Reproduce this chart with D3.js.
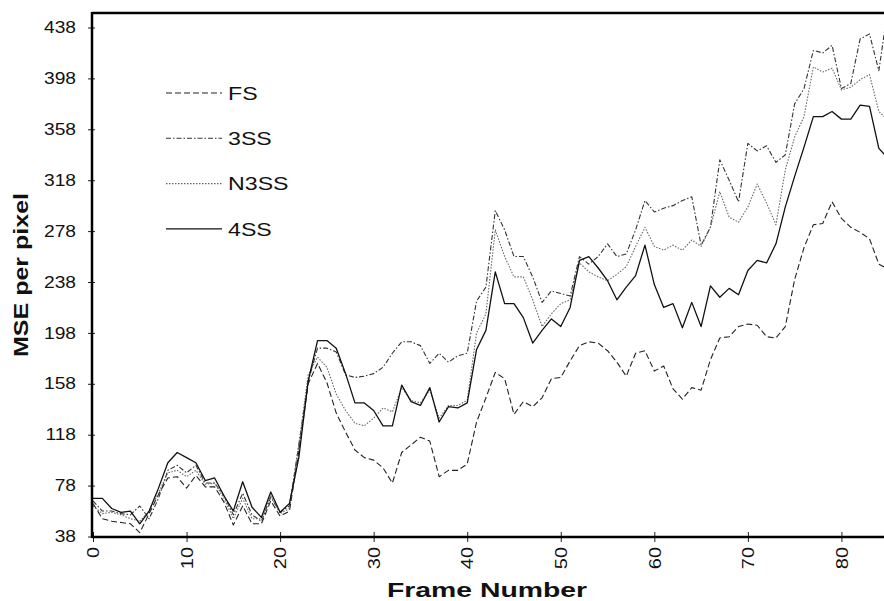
<!DOCTYPE html>
<html>
<head>
<meta charset="utf-8">
<script src="https://cdn.jsdelivr.net/npm/d3@7"></script>
<style>
    body { margin: 0; background: #fff; }
    svg { font-family: "Liberation Sans", Arial, sans-serif; }
    .tickTxt { font-size: 16px; fill: #111; }
    .axTitle { font-size: 20px; font-weight: bold; fill: #111; }
    .legTxt { font-size: 19px; fill: #111; }
</style>
</head>
<body>
<div id="mseGrf"></div>
<script>
// frame numbers
var frames = d3.range(0, 86);

// MSE per pixel
var fsVals = [64, 52, 50, 49, 48, 41, 56, 71, 84, 85, 76, 86, 77, 77, 65, 47, 62, 48, 48, 66, 54, 58,
    105, 158, 174, 159, 135, 120, 106, 100, 98, 92, 80, 104, 110, 116, 113, 85, 90, 90, 95,
    128, 147, 167, 162, 134, 144, 140, 147, 162, 163, 176, 188, 191, 190, 184, 175, 164, 182, 184, 168,
    172, 154, 146, 155, 153, 177, 194, 195, 203, 205, 204, 195, 194, 203, 240, 265, 283, 284, 301, 288,
    281, 277, 272, 252, 248];
var ss3Vals = [66, 58, 58, 56, 55, 62, 52, 68, 90, 94, 88, 94, 80, 80, 70, 55, 72, 55, 50, 69, 57, 62,
    110, 160, 186, 186, 183, 165, 163, 164, 166, 171, 182, 191, 191, 188, 174, 182, 175, 180, 182,
    223, 234, 294, 279, 258, 258, 242, 222, 231, 229, 227, 258, 252, 258, 268, 258, 260, 279, 302, 293,
    296, 298, 302, 305, 267, 281, 334, 318, 301, 347, 341, 345, 332, 338, 378, 390, 420, 418, 424, 390,
    394, 429, 433, 404, 455];
var n3ssVals = [62, 56, 57, 55, 52, 50, 58, 72, 88, 90, 85, 90, 79, 80, 68, 52, 68, 52, 52, 70, 56, 60,
    110, 165, 179, 171, 150, 137, 127, 125, 131, 139, 136, 155, 145, 143, 153, 131, 141, 141, 145,
    198, 213, 279, 258, 242, 242, 224, 203, 213, 221, 224, 253, 246, 242, 239, 244, 250, 266, 281, 266,
    263, 267, 263, 271, 266, 281, 309, 289, 285, 297, 315, 300, 283, 326, 352, 368, 407, 403, 406, 389,
    391, 397, 401, 372, 365];
var ss4Vals = [68, 68, 60, 57, 58, 48, 58, 76, 96, 104, 100, 96, 82, 84, 70, 58, 81, 61, 53, 73, 57, 64,
    100, 160, 192, 192, 186, 166, 143, 143, 137, 125, 125, 157, 144, 141, 155, 128, 140, 139, 143,
    185, 200, 246, 221, 221, 210, 190, 200, 209, 203, 218, 255, 258, 249, 239, 224, 234, 243, 267, 236,
    218, 221, 202, 222, 203, 235, 226, 233, 228, 247, 255, 253, 268, 297, 321, 344, 368, 368, 372, 366,
    366, 377, 376, 343, 335];

var seriesNames = ["FS", "3SS", "N3SS", "4SS"];
var yTicks = [38, 78, 118, 158, 198, 238, 278, 318, 358, 398, 438];
var xTicks = [0, 10, 20, 30, 40, 50, 60, 70, 80];

// the scanned figure uses a wide face, so stretch text along its run
function widen(sel, k) {
    sel.each(function () {
        var len = this.getComputedTextLength();
        this.setAttribute("textLength", len * k);
        this.setAttribute("lengthAdjust", "spacingAndGlyphs");
    });
}

function drawLineChart() {
    var W = 884, H = 601;
    var left = 92, top = 13, bottom = 537, right = 884;

    var svgBase = d3.select("#mseGrf").append("svg")
        .attr("width", W)
        .attr("height", H);

    var x = d3.scaleLinear().domain([0, 84.55]).range([93, right]);
    var y = d3.scaleLinear().domain([38, 449.4]).range([536.5, top]);

    // line styles per series
    var styles = {
        "FS": { dash: "6,3", stroke: "#222", width: 1.1 },
        "3SS": { dash: "5,2,1.5,2", stroke: "#333", width: 1.1 },
        "N3SS": { dash: "1.5,1.5", stroke: "#666", width: 1.1 },
        "4SS": { dash: null, stroke: "#111", width: 1.3 }
    };

    var data = [
        { name: "FS", vals: fsVals },
        { name: "3SS", vals: ss3Vals },
        { name: "N3SS", vals: n3ssVals },
        { name: "4SS", vals: ss4Vals }
    ];

    svgBase.append("clipPath").attr("id", "plotClip")
        .append("rect")
        .attr("x", left).attr("y", top)
        .attr("width", right - left).attr("height", bottom - top);

    var line = d3.line()
        .x((d, i) => x(frames[i]))
        .y(d => y(d));

    svgBase.append("g")
        .attr("clip-path", "url(#plotClip)")
        .selectAll("path")
        .data(data)
        .enter().append("path")
        .attr("fill", "none")
        .attr("stroke", d => styles[d.name].stroke)
        .attr("stroke-width", d => styles[d.name].width)
        .attr("stroke-dasharray", d => styles[d.name].dash)
        .attr("stroke-linejoin", "round")
        .attr("d", d => line(d.vals));

    // y axis
    var yAxis = svgBase.append("g")
        .attr("transform", "translate(" + left + ",0)")
        .call(d3.axisLeft(y).tickValues(yTicks).tickSizeInner(4).tickSizeOuter(0).tickPadding(12));
    yAxis.select(".domain").remove();
    yAxis.selectAll(".tick line").attr("x2", 3).attr("x1", -4).attr("stroke", "#222");
    yAxis.selectAll("text").attr("class", "tickTxt").attr("font-size", null).attr("font-family", null)
        .call(widen, 1.2);

    // x axis
    var xAxis = svgBase.append("g")
        .attr("transform", "translate(0," + bottom + ")")
        .call(d3.axisBottom(x).tickValues(xTicks).tickSizeOuter(0));
    xAxis.select(".domain").remove();
    xAxis.selectAll(".tick line").attr("y1", -5).attr("y2", 5).attr("stroke", "#222");
    xAxis.selectAll("text")
        .attr("class", "tickTxt")
        .attr("font-size", null).attr("font-family", null)
        .attr("transform", "rotate(-90)")
        .attr("x", -10).attr("y", 0).attr("dy", ".36em")
        .style("text-anchor", "end")
        .call(widen, 1.25);

    // frame lines
    svgBase.append("line")
        .attr("x1", left).attr("x2", left).attr("y1", top - 1).attr("y2", bottom + 1)
        .attr("stroke", "#000").attr("stroke-width", 2.5);
    svgBase.append("line")
        .attr("x1", left).attr("x2", right).attr("y1", bottom).attr("y2", bottom)
        .attr("stroke", "#000").attr("stroke-width", 2.5);
    svgBase.append("line")
        .attr("x1", left).attr("x2", right).attr("y1", top).attr("y2", top)
        .attr("stroke", "#000").attr("stroke-width", 2.5);

    // axis titles
    svgBase.append("text")
        .attr("class", "axTitle")
        .attr("x", 487).attr("y", 597)
        .attr("text-anchor", "middle")
        .attr("textLength", 200)
        .attr("lengthAdjust", "spacingAndGlyphs")
        .text("Frame Number");
    svgBase.append("text")
        .attr("class", "axTitle")
        .attr("transform", "translate(28,275) rotate(-90)")
        .attr("text-anchor", "middle")
        .attr("textLength", 164)
        .attr("lengthAdjust", "spacingAndGlyphs")
        .text("MSE per pixel");

    // legend
    var leg = svgBase.append("g").selectAll("g")
        .data(seriesNames)
        .enter().append("g")
        .attr("transform", (d, i) => "translate(166," + (93 + i * 45.3) + ")");
    leg.append("line")
        .attr("x1", 0).attr("x2", 56)
        .attr("stroke", d => styles[d].stroke)
        .attr("stroke-width", d => styles[d].width)
        .attr("stroke-dasharray", d => styles[d].dash);
    leg.append("text")
        .attr("class", "legTxt")
        .attr("x", 62).attr("dy", ".36em")
        .text(d => d)
        .call(widen, 1.22);
}

drawLineChart();
</script>
</body>
</html>
